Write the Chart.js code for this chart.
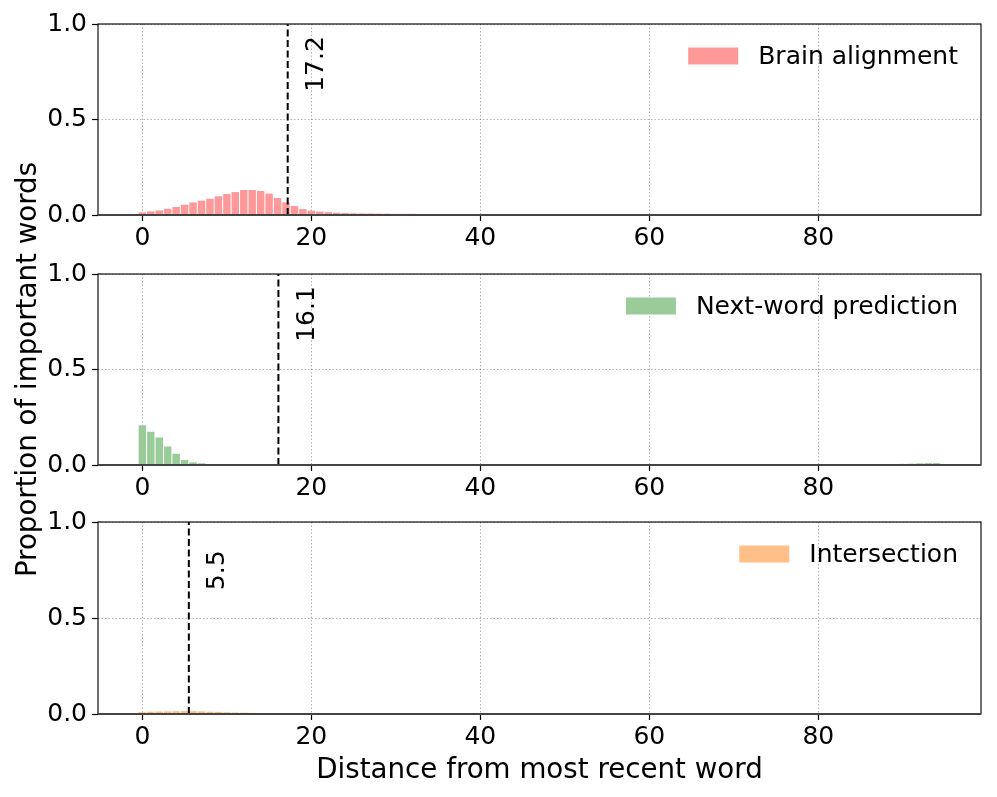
<!DOCTYPE html>
<html>
<head>
<meta charset="utf-8">
<script src="https://cdn.jsdelivr.net/npm/chart.js@4"></script>
<style>
  body { margin: 0; background: #fff; }
  #wrap { position: relative; width: 997px; height: 797px; }
  canvas { position: absolute; left: 0; top: 0; }
</style>
</head>
<body>
<div id="wrap">
  <canvas id="c0" width="997" height="797"></canvas>
  <canvas id="c1" width="997" height="797"></canvas>
  <canvas id="c2" width="997" height="797"></canvas>
</div>
<script>
// distance bins (x axis)
var distances = [0,1,2,3,4,5,6,7,8,9,10,11,12,13,14,15,16,17,18,19,
  20,21,22,23,24,25,26,27,28,29,30,31,32,33,34,35,36,37,38,39,
  40,41,42,43,44,45,46,47,48,49,50,51,52,53,54,55,56,57,58,59,
  60,61,62,63,64,65,66,67,68,69,70,71,72,73,74,75,76,77,78,79,
  80,81,82,83,84,85,86,87,88,89,90,91,92,93,94];

// proportion of important words per distance
var brainAlignment = [0.014,0.019,0.024,0.033,0.042,0.054,0.066,0.075,0.085,0.098,
  0.110,0.120,0.131,0.131,0.126,0.112,0.089,0.066,0.047,0.031,
  0.023,0.018,0.015,0.012,0.010,0.009,0.008,0.008,0.007,0.007,
  0.006,0.006,0.006,0.005,0.005,0.005,0.005,0.004,0.004,0.004,
  0.004,0.004,0.003,0.003,0.003,0.003,0.003,0.003,0.003,0.003,
  0.003,0.003,0.003,0.002,0.002,0.002,0.002,0.002,0.002,0.002,
  0.002,0.002,0.002,0.002,0.002,0.002,0.002,0.002,0.002,0.002,
  0.003,0.003,0.003,0.003,0.003,0.003,0.003,0.003,0.003,0.003,
  0.003,0.002,0.002,0.001,0.001,0.001,0.001,0.001,0.001,0.001,
  0.001,0.001,0.001,0.001,0.001];

var nextWordPrediction = [0.208,0.174,0.144,0.097,0.059,0.026,0.014,0.009,0.005,0.004,
  0.003,0.003,0.002,0.002,0.002,0.002,0.002,0.001,0.001,0.001,
  0.002,0.002,0.002,0.002,0.002,0.002,0.002,0.002,0.002,0.002,
  0.002,0.002,0.002,0.002,0.002,0.002,0.002,0.002,0.002,0.002,
  0.002,0.002,0.002,0.002,0.002,0.002,0.002,0.002,0.002,0.002,
  0.002,0.002,0.002,0.002,0.002,0.002,0.002,0.002,0.002,0.002,
  0.002,0.002,0.002,0.002,0.002,0.002,0.002,0.002,0.002,0.002,
  0.003,0.003,0.003,0.003,0.003,0.003,0.003,0.003,0.003,0.003,
  0.003,0.003,0.003,0.004,0.004,0.004,0.004,0.005,0.005,0.005,
  0.006,0.007,0.009,0.010,0.010];

var intersection = [0.010,0.012,0.013,0.014,0.015,0.016,0.015,0.014,0.012,0.011,
  0.009,0.008,0.007,0.006,0.005,0.004,0.003,0.002,0.001,0.001,
  0,0,0,0,0,0,0,0,0,0, 0,0,0,0,0,0,0,0,0,0,
  0,0,0,0,0,0,0,0,0,0, 0,0,0,0,0,0,0,0,0,0,
  0,0,0,0,0,0,0,0,0,0, 0,0,0,0,0,0,0,0,0,0,
  0,0,0,0,0,0,0,0,0,0, 0,0,0,0,0];

var seriesLabels = ["Brain alignment", "Next-word prediction", "Intersection"];
var seriesColors = ["#ff9999", "#99cc99", "#ffbf87"];
var meanDistance = [17.2, 16.1, 5.5]; // dashed lines
var xTicks = [0, 20, 40, 60, 80];
var yTicks = [0, 0.5, 1.0];

var FONT = "'DejaVu Sans', sans-serif";
var H = 797;
var panels = [ // plot area top / bottom in page pixels
  { top: 24, bottom: 215 },
  { top: 274, bottom: 465 },
  { top: 522, bottom: 714 }
];

// frame, mean line, rotated value and legend
var extras = {
  id: "extras",
  afterDatasetsDraw: function(chart, args, o) {
    var c = chart.ctx, a = chart.chartArea;
    var xs = chart.scales.x, ys = chart.scales.y;
    c.save();
    var px = xs.getPixelForValue(o.mean);
    c.strokeStyle = "#000";
    c.lineWidth = 2;
    c.setLineDash([7, 3.5]);
    c.beginPath();
    c.moveTo(px, ys.getPixelForValue(0));
    c.lineTo(px, ys.getPixelForValue(1));
    c.stroke();
    c.setLineDash([]);
    c.translate(xs.getPixelForValue(o.mean + 2) + 12, ys.getPixelForValue(0.645));
    c.rotate(-Math.PI / 2);
    c.fillStyle = "#000";
    c.font = "25px " + FONT;
    c.textAlign = "left";
    c.textBaseline = "middle";
    c.fillText(o.mean.toFixed(1), 0, 0);
    c.restore();

    c.save();
    c.strokeStyle = "#111";
    c.lineWidth = 1.2;
    c.strokeRect(a.left, a.top, a.right - a.left, a.bottom - a.top);
    c.strokeStyle = "#444";
    c.lineWidth = 2;
    c.beginPath();
    c.moveTo(a.left, a.bottom);
    c.lineTo(a.right, a.bottom);
    c.stroke();
    // legend
    var ds = chart.data.datasets[0];
    c.font = "25px " + FONT;
    var tw = c.measureText(ds.label).width;
    var tx = a.right - 23 - tw;
    var cy = a.top + 32;
    c.fillStyle = ds.backgroundColor;
    c.fillRect(tx - 20 - 50, cy - 8.5, 50, 17);
    c.fillStyle = "#000";
    c.textBaseline = "middle";
    c.fillText(ds.label, tx, cy + 1);
    c.restore();
  }
};

function makeChart(i, values) {
  var p = panels[i];
  var xh = i === 2 ? H - p.bottom : 45;
  var pts = distances.map(function(d, k) { return { x: d, y: values[k] }; });
  var grid = { color: "rgba(0,0,0,0.3)", lineWidth: 1, borderDash: [1.5, 2], offset: false,
               tickLength: 6, tickColor: "#000", tickWidth: 1.2, tickBorderDash: [] };
  var border = { display: false, dash: [1.5, 2] };
  return new Chart(document.getElementById("c" + i), {
    type: "bar",
    data: {
      datasets: [{
        label: seriesLabels[i],
        data: pts,
        backgroundColor: seriesColors[i],
        barPercentage: 0.88,
        categoryPercentage: 1.0
      }]
    },
    options: {
      responsive: false,
      animation: false,
      devicePixelRatio: 1,
      layout: { padding: { top: p.top, left: 0, right: 16, bottom: H - p.bottom - xh } },
      plugins: {
        legend: { display: false },
        tooltip: { enabled: false },
        extras: { mean: meanDistance[i] }
      },
      scales: {
        x: {
          type: "linear",
          offset: false,
          min: -5.25,
          max: 99.25,
          grid: grid,
          border: border,
          afterBuildTicks: function(s) { s.ticks = xTicks.map(function(v) { return { value: v }; }); },
          afterFit: function(s) { s.height = xh; },
          ticks: { font: { family: FONT, size: 25 }, color: "#000", padding: 2, maxRotation: 0,
                   callback: function(v) { return String(v); } },
          title: {
            display: i === 2,
            text: "Distance from most recent word",
            color: "#000",
            font: { family: FONT, size: 27.7 },
            padding: { top: 0, bottom: 10 }
          }
        },
        y: {
          min: 0,
          max: 1,
          grid: grid,
          border: border,
          afterBuildTicks: function(s) { s.ticks = yTicks.map(function(v) { return { value: v }; }); },
          afterFit: function(s) { s.width = 98; },
          ticks: { font: { family: FONT, size: 25 }, color: "#000", padding: 5,
                   callback: function(v) { return Number(v).toFixed(1); } },
          title: {
            display: i === 1,
            text: "Proportion of important words",
            color: "#000",
            font: { family: FONT, size: 27.7 },
            padding: { top: 12, bottom: 0 }
          }
        }
      }
    },
    plugins: [extras]
  });
}

makeChart(0, brainAlignment);
makeChart(1, nextWordPrediction);
makeChart(2, intersection);
</script>
</body>
</html>
